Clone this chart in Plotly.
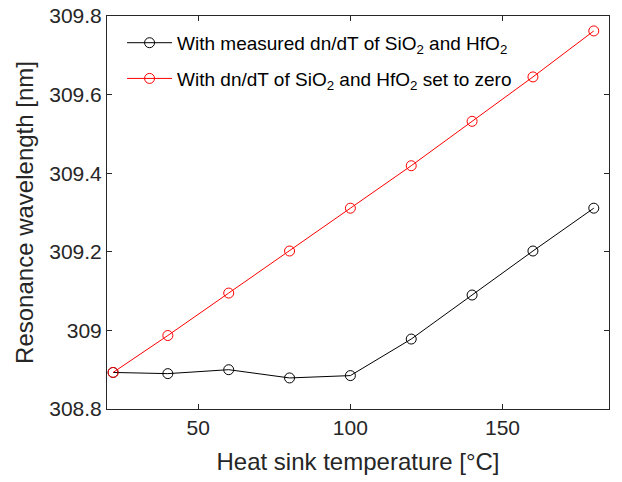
import plotly.graph_objects as go

temps = [22, 40, 60, 80, 100, 120, 140, 160, 180]
measured = [308.893, 308.890, 308.900, 308.879, 308.885, 308.978, 309.090, 309.202, 309.311]
zero_dndt = [308.893, 308.987, 309.095, 309.202, 309.311, 309.419, 309.532, 309.645, 309.762]

x_ticks = [50, 100, 150]
y_ticks = [308.8, 309.0, 309.2, 309.4, 309.6, 309.8]
y_tick_text = ["308.8", "309", "309.2", "309.4", "309.6", "309.8"]

name_measured = "With measured dn/dT of SiO<sub>2</sub> and HfO<sub>2</sub>"
name_zero = "With dn/dT of SiO<sub>2</sub> and HfO<sub>2</sub> set to zero"

fig = go.Figure()
fig.add_trace(go.Scatter(
    x=temps, y=measured, mode="lines+markers", name=name_measured, legendgroup="a",
    line=dict(color="black", width=1),
    marker=dict(symbol="circle-open", size=10, color="black", line=dict(width=1)),
))
fig.add_trace(go.Scatter(
    x=temps, y=zero_dndt, mode="lines+markers", name=name_zero, legendgroup="b",
    line=dict(color="red", width=1),
    marker=dict(symbol="circle-open", size=10, color="red", line=dict(width=1)),
))

axis_common = dict(
    showgrid=False, zeroline=False, showline=True, linecolor="#262626", linewidth=1,
    mirror="ticks", ticks="inside", ticklen=5, tickcolor="#262626", automargin=False,
    ticklabeloverflow="allow",
    tickfont=dict(family="Liberation Sans, Arial, sans-serif", size=21, color="#262626"),
)

fig.update_layout(
    width=622, height=482,
    margin=dict(l=107, r=13, t=16, b=73),
    paper_bgcolor="white", plot_bgcolor="white",
    font=dict(family="Liberation Sans, Arial, sans-serif", color="#262626"),
    xaxis=dict(range=[20, 185], tickvals=x_ticks,
               title=dict(text="Heat sink temperature [°C]", font=dict(size=24), standoff=14),
               **axis_common),
    yaxis=dict(range=[308.8, 309.8], tickvals=y_ticks, ticktext=y_tick_text,
               title=dict(text="Resonance wavelength [nm]", font=dict(size=24), standoff=8),
               **axis_common),
    legend=dict(x=0.03, y=0.98, xanchor="left", yanchor="top",
                bgcolor="rgba(255,255,255,0)", borderwidth=0,
                font=dict(size=19, color="black"), traceorder="grouped",
                tracegroupgap=8, itemwidth=45),
)

fig.write_html("out.html", config={"displayModeBar": False},
               post_script="document.body.style.margin='0';")
